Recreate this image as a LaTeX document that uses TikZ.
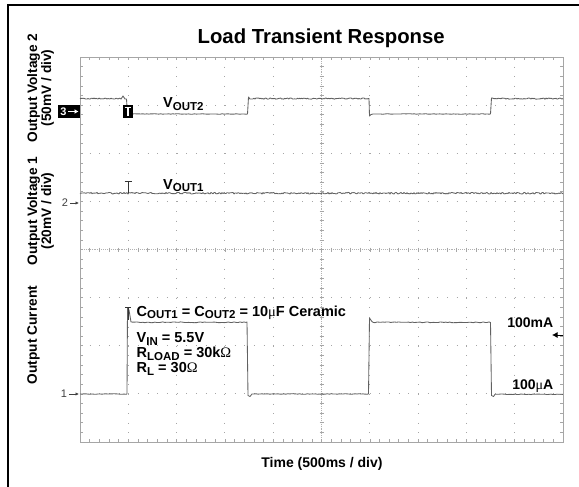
\documentclass[tikz,border=0pt]{standalone}
\usepackage{fontspec}
\setmainfont{Liberation Sans}
\newfontfamily\symf{Liberation Serif}
\usetikzlibrary{arrows.meta}
\newcommand{\subtx}[1]{\raisebox{-0.18em}{\fontsize{11.5}{11}\selectfont #1}}
\newcommand{\mugr}{{\symf\mdseries μ}}
\newcommand{\omgr}{{\symf\mdseries Ω}}
\tikzset{
  gridv/.style={draw=black!35, line width=0.9pt, dash pattern=on 0.9pt off 8.725pt},
  gridh/.style={draw=black!35, line width=0.9pt, dash pattern=on 0.9pt off 8.76pt},
  gridfine/.style={draw=black!30, line width=0.6pt, dash pattern=on 0.6pt off 1.33pt},
  gridtick/.style={draw=black!35, line width=0.6pt},
  border/.style={draw=black!35, line width=0.9pt},
  trace/.style={draw=black!62, line width=0.85pt, line join=round},
  lbl/.style={font=\fontsize{14}{14.5}\selectfont\bfseries, inner sep=0pt},
  plbl/.style={font=\fontsize{14.5}{14.5}\selectfont\bfseries, inner sep=0pt},
  ylab/.style={font=\fontsize{13.7}{14}\selectfont\bfseries, inner sep=0pt, rotate=90, align=center, anchor=north},
  titlef/.style={font=\fontsize{20.3}{24}\selectfont\bfseries, inner sep=0pt},
  chmark/.style={font=\fontsize{11}{11}\selectfont, text=black!75, inner sep=0pt},
}
\begin{document}
\begin{tikzpicture}[x=1pt,y=-1pt]
\fill[white] (0,0) rectangle (579,487);
\useasboundingbox (0,0) rectangle (579,487);
% outer frame
\draw[line width=2pt, line join=miter] (8,487) -- (8,5) -- (579,5);
% grid
\foreach \k in {1,2,3,4,6,7,8,9} \draw[gridv] ({80+48.3*\k},57) -- ({80+48.3*\k},442);
\foreach \j in {1,2,3,5,6,7} \draw[gridh] (80,{57+48.125*\j}) -- (563,{57+48.125*\j});
\draw[gridfine] (80,249.5) -- (563,249.5);
\draw[gridfine] (321.5,57) -- (321.5,442);
\foreach \m in {1,...,49} {
  \draw[gridtick] ({80+9.66*\m},247.5) -- ++(0,4);
  \draw[gridtick] ({80+9.66*\m},57) -- ++(0,3);
  \draw[gridtick] ({80+9.66*\m},442) -- ++(0,-3);
}
\foreach \m in {1,...,39} {
  \draw[gridtick] (319.5,{57+9.625*\m}) -- ++(4,0);
  \draw[gridtick] (80,{57+9.625*\m}) -- ++(3,0);
  \draw[gridtick] (563,{57+9.625*\m}) -- ++(-3,0);
}
\draw[border] (80,57) rectangle (563,442);
% traces
\pgfmathsetseed{11}
\draw[trace] plot[domain=80:121,samples=42] (\x,{98.6+0.6*rand}) -- (123,96) -- (125,99) -- (126.5,99) -- (127.5,114)
  -- plot[domain=129:246,samples=60] (\x,{114+0.25*rand}) -- (247.5,114) -- (248.5,97)
  -- plot[domain=250:368,samples=120] (\x,{98.6+0.6*rand}) -- (369,98.5) -- (369.5,116) -- (371,114.5)
  -- plot[domain=373:489,samples=60] (\x,{114+0.25*rand}) -- (490.5,114) -- (491.5,98)
  -- plot[domain=493:563,samples=71] (\x,{98.6+0.6*rand});
\draw[trace] plot[domain=80:563,samples=484] (\x,{193.2+0.8*rand});
\draw[trace] plot[domain=80:126,samples=24] (\x,{394+0.3*rand}) -- (127,394) -- (127.5,308) -- (129,310) -- (131,322)
  -- plot[domain=133:246,samples=58] (\x,{322.3+0.4*rand}) -- (247,322) -- (248,395.5) -- (250,396.5) -- (252,394)
  -- plot[domain=254:367,samples=58] (\x,{394+0.3*rand}) -- (368.5,394) -- (369.5,318) -- (371.5,321)
  -- plot[domain=373:489,samples=60] (\x,{322.3+0.4*rand}) -- (490.5,322.5) -- (491.5,395.5) -- (493.5,396.5) -- (495,394.3)
  -- plot[domain=497:563,samples=34] (\x,{394.3+0.3*rand});
% trigger markers
\fill[black] (122.5,105) rectangle (133,118);
\draw[white, line width=1.4pt] (124.5,107.5) -- (131,107.5) (127.8,107.5) -- (127.8,116);
\draw[black!80, line width=0.8pt] (124.5,181) -- (131.5,181) (128,181) -- (128,193);
\draw[black!80, line width=0.8pt] (125,307.5) -- (131,307.5) (128,307.5) -- (128,320);
% channel markers
\fill[black] (58,105) rectangle (80,118);
\node[font=\fontsize{11}{11}\selectfont\bfseries, text=white, inner sep=0pt] (m3) at (63.5,111.5) {3};
\draw[white, line width=1pt, -{Latex[length=4pt,width=5pt]}] (68,111.5) -- (78.5,111.5);
\node[chmark] (m2) at (65,203) {2};
\draw[black!75, line width=0.7pt, -{Latex[length=3.5pt,width=3.5pt]}] (70,203) -- (79,203);
\node[chmark] (m1) at (64,394) {1};
\draw[black!75, line width=0.7pt, -{Latex[length=3.5pt,width=3.5pt]}] (69,394) -- (79,394);
% labels
\node[titlef, anchor=base] (title) at (321.2,43.5) {Load Transient Response};
\node[ylab] (yl2) at (27,88) {Output Voltage 2\\(50mV / div)};
\node[ylab] (yl1) at (27,211) {Output Voltage 1\\(20mV / div)};
\node[ylab] (yl0) at (27,335) {Output Current};
\node[lbl, anchor=base] (xl) at (322,467) {Time (500ms / div)};
\node[plbl, anchor=base west] (v2) at (163,108) {V\subtx{OUT2}};
\node[plbl, anchor=base west] (v1) at (163,189) {V\subtx{OUT1}};
\node[plbl, anchor=base west] (cout) at (136.5,316) {C\subtx{OUT1} = C\subtx{OUT2} = 10\mugr F Ceramic};
\node[plbl, anchor=base west] (vin) at (136.5,342.5) {V\subtx{IN} = 5.5V};
\node[plbl, anchor=base west] (rload) at (136.5,357.5) {R\subtx{LOAD} = 30k\omgr};
\node[plbl, anchor=base west] (rl) at (136.5,372.5) {R\subtx{L} = 30\omgr};
\node[lbl, anchor=base east] (ima) at (553.5,327.5) {100mA};
\node[lbl, anchor=base east] (iua) at (553.5,389) {100\mugr A};
\coordinate (aS) at (563,335);
\coordinate (aE) at (552,335);
\draw[line width=0.9pt, -{Latex[length=5.5pt,width=6pt]}] (aS) -- (aE);
\end{tikzpicture}
\end{document}
